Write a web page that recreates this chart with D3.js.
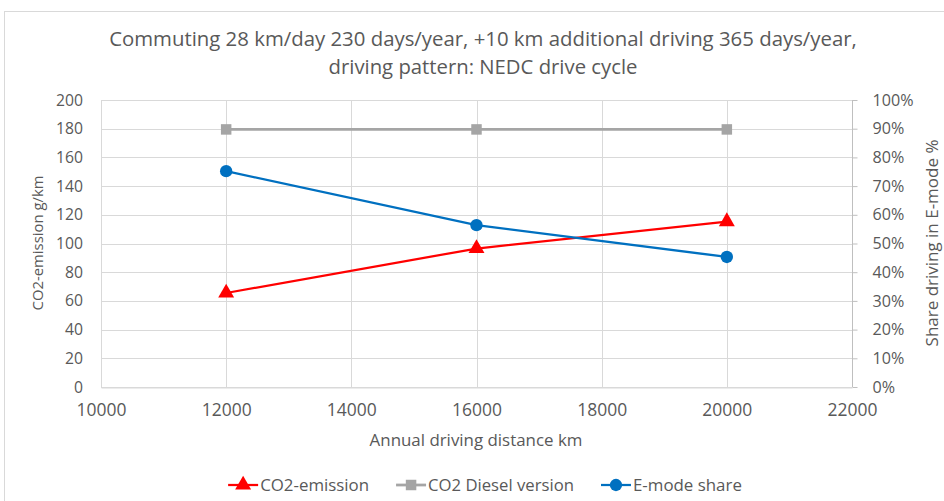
<!DOCTYPE html>
<html lang="en">

<head>
    <meta charset="UTF-8">
    <title>Commuting chart</title>
    <script src="https://d3js.org/d3.v7.min.js"></script>
    <style>
        body { margin: 0; background: #fff; }
        text { font-family: "Open Sans", sans-serif; fill: #595959; }
    </style>
</head>

<body>
    <div id="content"></div>
</body>
<script>
const distances = [12000, 16000, 20000];
const co2Emission = [65.5, 96.5, 115.3];
const co2Diesel = [179.5, 179.5, 179.5];
const eModeShare = [0.752, 0.564, 0.453];

const xTicks = [10000, 12000, 14000, 16000, 18000, 20000, 22000];
const yLeftTicks = [0, 20, 40, 60, 80, 100, 120, 140, 160, 180, 200];
const yRightTicks = [0, 0.1, 0.2, 0.3, 0.4, 0.5, 0.6, 0.7, 0.8, 0.9, 1.0];

const titleLines = [
    "Commuting 28 km/day 230 days/year, +10 km additional driving 365 days/year,",
    "driving pattern: NEDC drive cycle"
];

const W = 944, H = 501;
const plot = { left: 101, right: 852, top: 100, bottom: 387 };

const svg = d3.select("#content")
    .append("svg")
    .attr("width", W)
    .attr("height", H);

// chart area border
svg.append("rect")
    .attr("x", 4.5).attr("y", 11.5)
    .attr("width", W).attr("height", H)
    .attr("fill", "none")
    .attr("stroke", "#d9d9d9");

const x = d3.scaleLinear().domain([10000, 22000]).range([plot.left, plot.right]);
const yL = d3.scaleLinear().domain([0, 200]).range([plot.bottom, plot.top]);
const yR = d3.scaleLinear().domain([0, 1]).range([plot.bottom, plot.top]);

// shrink or grow a text to a measured width
function fit(sel, w) {
    const len = sel.node().getComputedTextLength();
    const fs = parseFloat(sel.attr("font-size"));
    sel.attr("font-size", fs * w / len);
}

// gridlines
const grid = svg.append("g").attr("stroke", "#d9d9d9").attr("stroke-width", 1);
grid.selectAll(".h").data(yLeftTicks).enter().append("line")
    .attr("x1", plot.left).attr("x2", plot.right)
    .attr("y1", d => Math.round(yL(d)) + 0.5).attr("y2", d => Math.round(yL(d)) + 0.5);
grid.selectAll(".v").data(xTicks).enter().append("line")
    .attr("y1", plot.top).attr("y2", plot.bottom)
    .attr("x1", d => Math.round(x(d)) + 0.5).attr("x2", d => Math.round(x(d)) + 0.5);

// x axis
const xAxis = svg.append("g")
    .attr("transform", `translate(0,${plot.bottom + 0.5})`)
    .call(d3.axisBottom(x).tickValues(xTicks).tickFormat(d3.format("d")).tickSize(0).tickPadding(16));
xAxis.select(".domain").attr("stroke", "#d9d9d9");
xAxis.selectAll("text").attr("font-size", 16).attr("fill", "#595959").attr("font-family", "Open Sans");

// left axis
const yAxisL = svg.append("g")
    .attr("transform", `translate(${plot.left},0)`)
    .call(d3.axisLeft(yL).tickValues(yLeftTicks).tickSize(0).tickPadding(18));
yAxisL.select(".domain").remove();
yAxisL.selectAll("text").attr("font-size", 16).attr("fill", "#595959").attr("font-family", "Open Sans");

// right axis
const yAxisR = svg.append("g")
    .attr("transform", `translate(${plot.right + 0.5},0)`)
    .call(d3.axisRight(yR).tickValues(yRightTicks).tickFormat(d3.format(".0%")).tickSize(5).tickPadding(15));
yAxisR.select(".domain").attr("stroke", "#bfbfbf").attr("d", `M0,${plot.top}V${plot.bottom}`);
yAxisR.selectAll(".tick line").attr("stroke", "#bfbfbf");
yAxisR.selectAll("text").attr("font-size", 16).attr("fill", "#595959").attr("font-family", "Open Sans");

// fit tick label widths
const s1 = 50 / xAxis.select(".tick text").node().getComputedTextLength();
xAxis.selectAll("text").attr("font-size", 16 * s1);
const s2 = 27 / yAxisL.selectAll(".tick text").nodes()[10].getComputedTextLength();
yAxisL.selectAll("text").attr("font-size", 16 * s2);
const s3 = 41 / yAxisR.selectAll(".tick text").nodes()[10].getComputedTextLength();
yAxisR.selectAll("text").attr("font-size", 16 * s3);

// title
const titleWidths = [748, 309];
const titleY = [46, 74];
titleLines.forEach((t, i) => {
    const el = svg.append("text")
        .attr("x", 483).attr("y", titleY[i])
        .attr("text-anchor", "middle")
        .attr("font-size", 20)
        .text(t);
    fit(el, titleWidths[i]);
});

// axis titles
fit(svg.append("text")
    .attr("x", 476).attr("y", 446)
    .attr("text-anchor", "middle").attr("font-size", 16)
    .text("Annual driving distance km"), 213);

fit(svg.append("text")
    .attr("transform", "translate(43,243) rotate(-90)")
    .attr("text-anchor", "middle").attr("font-size", 16)
    .text("CO2-emission g/km"), 135);

fit(svg.append("text")
    .attr("transform", "translate(938,243) rotate(-90)")
    .attr("text-anchor", "middle").attr("font-size", 16)
    .text("Share driving in E-mode %"), 207);

// series
const series = [
    { name: "CO2-emission", values: co2Emission, y: yL, color: "#ff0000", marker: "triangle", width: 2.25 },
    { name: "CO2 Diesel version", values: co2Diesel, y: yL, color: "#a5a5a5", marker: "square", width: 2.75 },
    { name: "E-mode share", values: eModeShare, y: yR, color: "#0070c0", marker: "circle", width: 2.25 }
];

const symbols = {
    triangle: d3.symbol().type(d3.symbolTriangle).size(110),
    square: d3.symbol().type(d3.symbolSquare).size(110),
    circle: d3.symbol().type(d3.symbolCircle).size(120)
};

series.forEach(s => {
    const pts = distances.map((d, i) => [x(d), s.y(s.values[i])]);
    svg.append("path")
        .datum(pts)
        .attr("d", d3.line())
        .attr("fill", "none")
        .attr("stroke", s.color)
        .attr("stroke-width", s.width);
    svg.selectAll(null).data(pts).enter().append("path")
        .attr("transform", d => `translate(${d[0]},${d[1]})`)
        .attr("d", symbols[s.marker])
        .attr("fill", s.color);
});

// legend
const legend = svg.append("g");
let lx = 0;
series.forEach((s, i) => {
    const g = legend.append("g").attr("transform", `translate(${lx},0)`);
    g.append("line")
        .attr("x1", 0).attr("x2", 30).attr("y1", 0).attr("y2", 0)
        .attr("stroke", s.color).attr("stroke-width", s.width);
    g.append("path")
        .attr("transform", "translate(15,0)")
        .attr("d", symbols[s.marker])
        .attr("fill", s.color);
    const t = g.append("text")
        .attr("x", 32).attr("y", 6)
        .attr("font-size", 16)
        .text(s.name);
    fit(t, [109, 146, 109][i]);
    lx += 32 + t.node().getComputedTextLength() + 27;
});
lx -= 27;
legend.attr("transform", `translate(${485 - lx / 2},485)`);
</script>

</html>
